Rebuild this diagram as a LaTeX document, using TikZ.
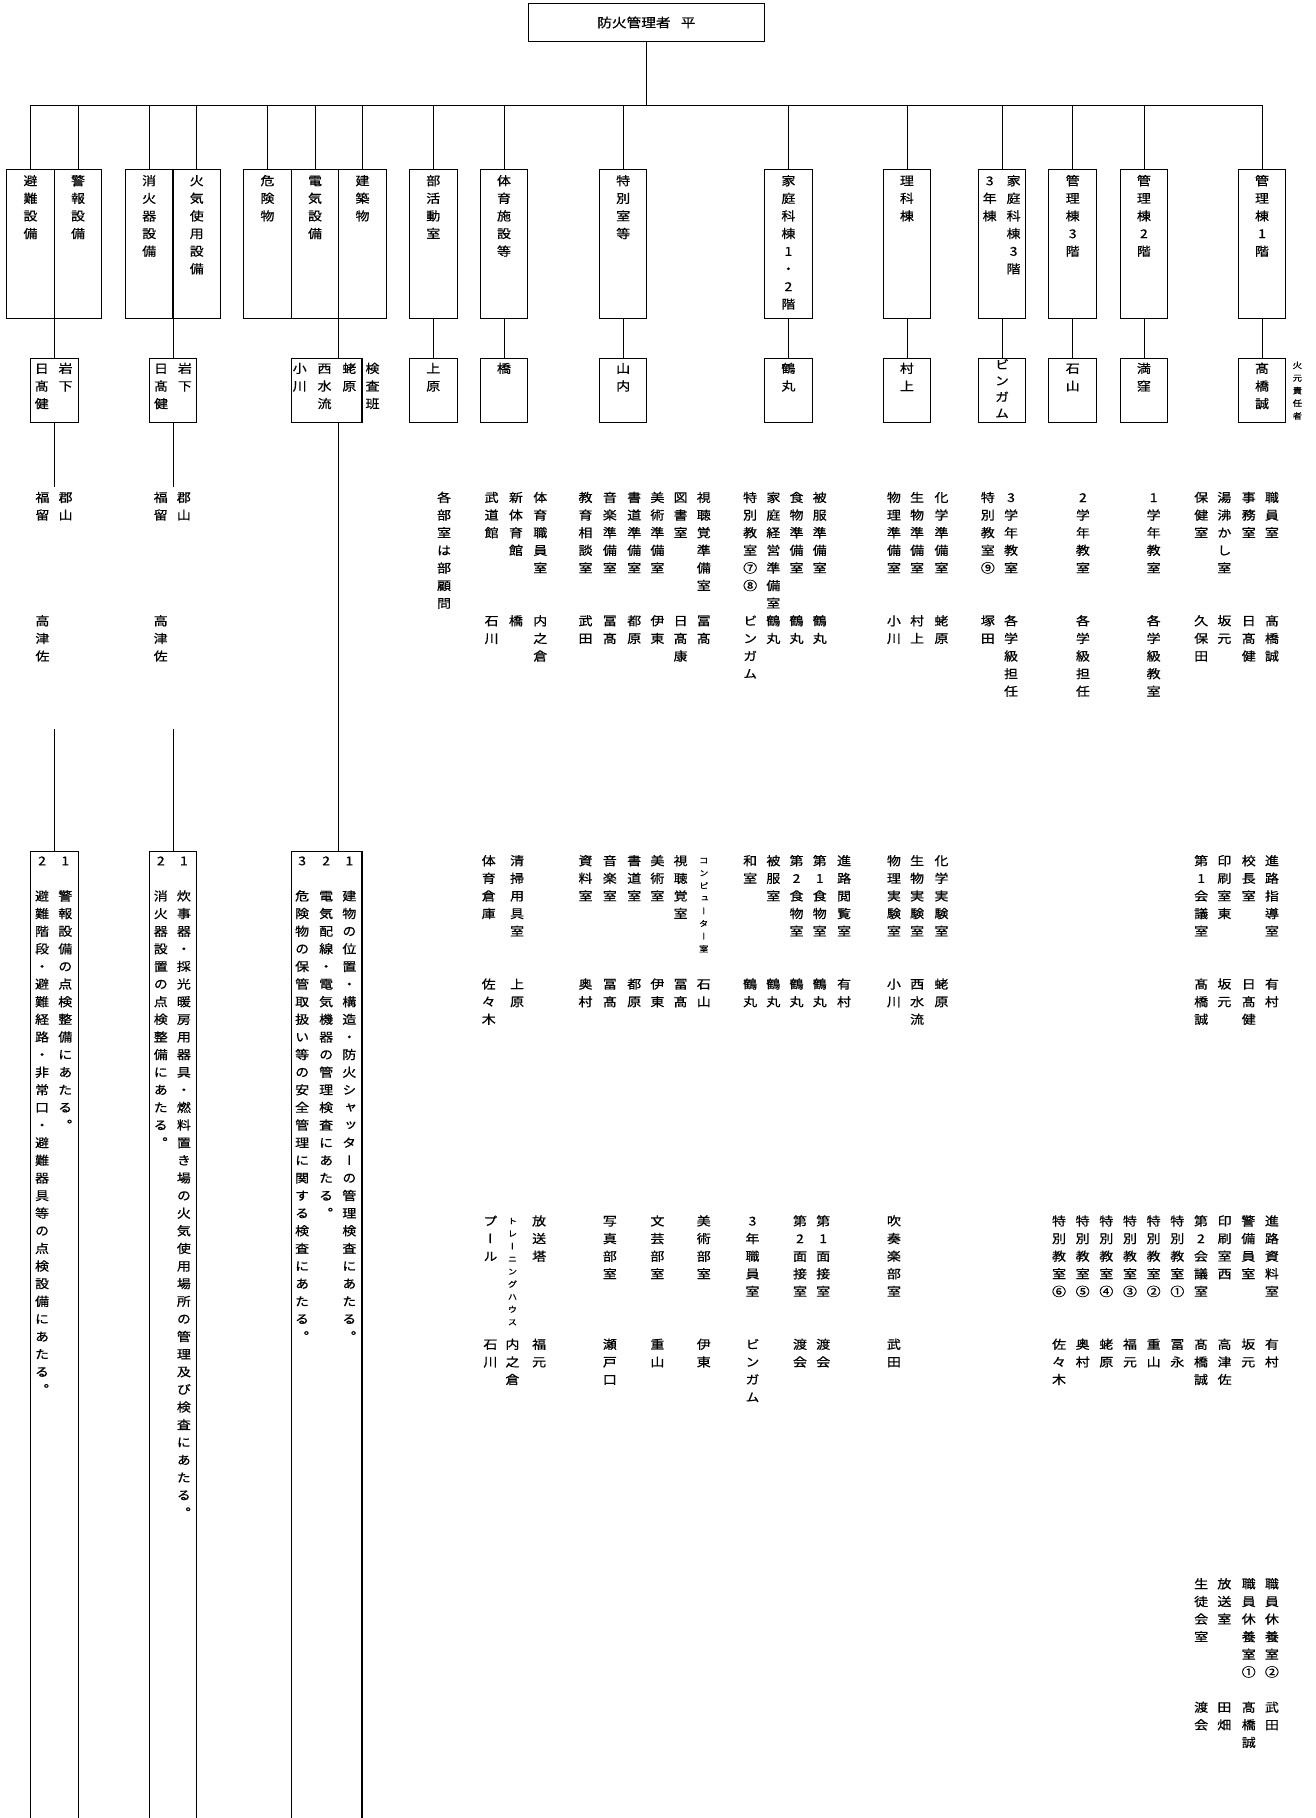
\documentclass[tikz,border=0pt]{standalone}
\usepackage{fontspec}
\newfontfamily\jpfont[RawFeature=+vert,FakeStretch=1.15,FakeBold=0.6]{Noto Sans CJK JP}
\usetikzlibrary{positioning}

% vertical (tate-gaki) column: one character per line
\makeatletter
\def\tate@end{\tate@end}
\newcommand\tate[2][15.2pt]{\vtop{\baselineskip=#1\relax\lineskiplimit=-\maxdimen\expandafter\tate@a#2\tate@end}}
\def\tate@a#1{\ifx\tate@end#1\else\hbox to 1.2em{\hss#1\hss}\expandafter\tate@a\fi}
\makeatother
\newcommand\tatebl{}

\begin{document}
\begin{tikzpicture}[x=1pt,y=-1pt,
  tt/.style={font=\jpfont\fontsize{10.5}{15.2}\selectfont,inner sep=0pt,anchor=base},
  small/.style={font=\jpfont\fontsize{7}{10.9}\selectfont,inner sep=0pt,anchor=base},
  cell/.style={draw,line width=0.9pt,inner sep=0pt,outer sep=0pt,minimum width=41pt,minimum height=128pt},
  chk/.style={cell,minimum height=55.2pt},
  duty/.style={draw,line width=0.9pt,inner sep=0pt,outer sep=0pt,minimum height=860pt},
  wire/.style={line width=0.6pt},
  busline/.style={line width=0.9pt}
]
  \useasboundingbox (0,0) rectangle (1135,1568);
  \fill[white] (0,0) rectangle (1135,1568);

  \node[draw,line width=0.9pt,inner sep=0pt,minimum width=203pt,minimum height=32.7pt,
        font=\jpfont\fontsize{11}{13}\selectfont] (chief) at (557.5,19.4) {防火管理者\hspace{0.8em}平};
  \coordinate (bus) at (557.5,90.8);

  % first row of boxes
  \node[cell,anchor=north west] (evac) at (5.8,146.6) {};
  \node[cell,right=0pt of evac] (alarm) {};
  \node[cell,anchor=north west] (extg) at (108.2,146.6) {};
  \node[cell,right=0pt of extg] (firegear) {};
  \node[cell,anchor=north west] (hazard) at (210.2,146.6) {};
  \node[cell,right=0pt of hazard] (elec) {};
  \node[cell,right=0pt of elec] (bldg) {};
  \node[cell,anchor=north] (club) at (373.7,146.6) {};
  \node[cell,anchor=north] (gym) at (434.7,146.6) {};
  \node[cell,anchor=north] (special) at (537.5,146.6) {};
  \node[cell,anchor=north] (home) at (680,146.6) {};
  \node[cell,anchor=north] (sci) at (782.2,146.6) {};
  \node[cell,anchor=north] (third) at (864.2,146.6) {};
  \node[cell,anchor=north] (kanri3) at (925.2,146.6) {};
  \node[cell,anchor=north] (kanri2) at (986.6,146.6) {};
  \node[cell,anchor=north] (kanri1) at (1088.5,146.6) {};

  \foreach \bx/\tx in {evac/避難設備,alarm/警報設備,extg/消火器設備,firegear/火気使用設備,
      hazard/危険物,elec/電気設備,bldg/建築物,club/部活動室,gym/体育施設等,special/特別室等,
      home/家庭科棟1・2階,sci/理科棟,kanri3/管理棟3階,kanri2/管理棟2階,kanri1/管理棟1階}
    \node[tt] (\bx-t) at (\bx.north |- 0,159.8) {\tate{\tx}};
  \node[tt] (third-a) at (853.6,159.8) {\tate{3年棟}};
  \node[tt] (third-b) at (874.2,159.8) {\tate{家庭科棟3階}};

  \draw[wire] (chief.south) -- (bus);
  \draw[busline] (evac.north |- bus) -- (kanri1.north |- bus);
  \foreach \bx in {evac,alarm,extg,firegear,hazard,elec,bldg,club,gym,special,home,sci,third,kanri3,kanri2,kanri1}
    \draw[wire] (\bx.north |- bus) -- (\bx.north);

  % second row: persons in charge
  \node[chk,anchor=north] (chkA) at (evac.south east |- 0,309) {};
  \node[chk,anchor=north] (chkB) at (extg.south east |- 0,309) {};
  \node[chk,minimum width=61pt,anchor=north west] (chkC) at (251.2,309) {};
  \node[tt] (chkA-1) at (36,321.7) {\tate{日髙健}};
  \node[tt] (chkA-2) at (56.5,321.7) {\tate{岩下}};
  \node[tt] (chkB-1) at (138.9,321.7) {\tate{日髙健}};
  \node[tt] (chkB-2) at (159.5,321.7) {\tate{岩下}};
  \node[tt] (chkC-1) at (258.5,321.7) {\tate{小川}};
  \node[tt] (chkC-2) at (279.9,321.7) {\tate{西水流}};
  \node[tt] (chkC-3) at (301.3,321.7) {\tate{蛯原}};
  \node[tt] (chkC-note) at (321.3,321.7) {\tate{検査班}};

  \foreach \up/\bx/\tx/\pt/\by in {club/uehara/上原/15.2pt/321.7,gym/tachibana/橋/15.2pt/321.7,
      special/yamauchi/山内/15.2pt/321.7,home/tsurumaru/鶴丸/15.2pt/321.7,sci/murakami/村上/15.2pt/321.7,
      third/bingamu/ビンガム/14pt/318.3,kanri3/ishiyama/石山/15.2pt/321.7,
      kanri2/mitsukubo/満窪/15.2pt/321.7,kanri1/takahashi/髙橋誠/15.2pt/321.7}{
    \node[chk,anchor=north] (\bx) at (\up.south |- 0,309) {};
    \node[tt] (\bx-t) at (\bx.north |- 0,\by) {\tate[\pt]{\tx}};
    \draw[wire] (\up.south) -- (\bx.north);
  }
  \node[small] (hinomoto) at (1119,317.7) {\tate[10.9pt]{火元責任者}};

  \draw[wire] (evac.south east) -- (chkA.north);
  \draw[wire] (extg.south east) -- (chkB.north);
  \draw[wire] (elec.south east) -- (elec.south east |- chkC.north);

  % third row: duties
  \node[duty,minimum width=41pt,anchor=north] (dutyA) at (chkA.south |- 0,734.5) {};
  \node[duty,minimum width=41pt,anchor=north] (dutyB) at (chkB.south |- 0,734.5) {};
  \node[duty,minimum width=61pt,anchor=north west] (dutyC) at (251.2,734.5) {};

  \coordinate (endA) at (chkA.south |- 0,420.3);
  \coordinate (endB) at (chkB.south |- 0,420.3);
  \coordinate (startA) at (chkA.south |- 0,629);
  \coordinate (startB) at (chkB.south |- 0,629);
  \draw[wire] (chkA.south) -- (endA);
  \draw[wire] (chkB.south) -- (endB);
  \draw[wire] (startA) -- (dutyA.north);
  \draw[wire] (startB) -- (dutyB.north);
  \draw[wire] (elec.south east |- chkC.south) -- (elec.south east |- dutyC.north);

  \node[tt] (dutyA-1) at (56.3,746.3) {\tate{1\tatebl 警報設備の点検整備にあたる。}};
  \node[tt] (dutyA-2) at (36.3,746.3) {\tate{2\tatebl 避難階段・避難経路・非常口・避難器具等の点検設備にあたる。}};
  \node[tt] (dutyB-1) at (158.6,746.3) {\tate{1\tatebl 炊事器・採光暖房用器具・燃料置き場の火気使用場所の管理及び検査にあたる。}};
  \node[tt] (dutyB-2) at (138.7,746.3) {\tate{2\tatebl 消火器設置の点検整備にあたる。}};
  \node[tt] (dutyC-1) at (301.3,746.3) {\tate{1\tatebl 建物の位置・構造・防火シャッターの管理検査にあたる。}};
  \node[tt] (dutyC-2) at (281.3,746.3) {\tate{2\tatebl 電気配線・電気機器の管理検査にあたる。}};
  \node[tt] (dutyC-3) at (260.6,746.3) {\tate{3\tatebl 危険物の保管取扱い等の安全管理に関する検査にあたる。}};

  % left lists under the second row
  \node[tt] (leftA-1) at (36.6,433) {\tate{福留}};
  \node[tt] (leftA-2) at (56.6,433) {\tate{郡山}};
  \node[tt] (leftA-3) at (36.6,539.4) {\tate{高津佐}};
  \node[tt] (leftB-1) at (138.6,433) {\tate{福留}};
  \node[tt] (leftB-2) at (158.6,433) {\tate{郡山}};
  \node[tt] (leftB-3) at (138.6,539.4) {\tate{高津佐}};

  % rooms and persons, block 1
  \node[tt] (bukatsu) at (383,433) {\tate{各部室は部顧問}};
  \foreach \x/\tx/\nm [count=\i] in {424/武道館/石川,445/新体育館/橋,466/体育職員室/内之倉,
      505/教育相談室/武田,526/音楽準備室/冨髙,547/書道準備室/都原,567/美術準備室/伊東,
      587/図書室/日髙康,607/視聴覚準備室/冨髙,647/特別教室⑦⑧/ビンガム,667/家庭経営準備室/鶴丸,
      687/食物準備室/鶴丸,707/被服準備室/鶴丸,771/物理準備室/小川,791/生物準備室/村上,
      812/化学準備室/蛯原,852/特別教室⑨/塚田,872/3学年教室/各学級担任,934/2学年教室/各学級担任,
      995/1学年教室/各学級教室,1036/保健室/久保田,1056/湯沸かし室/坂元,1077/事務室/日髙健,
      1097/職員室/髙橋誠}{
    \node[tt] (roomA-\i) at (\x,433) {\tate{\tx}};
    \node[tt] (staffA-\i) at (\x,539.4) {\tate{\nm}};
  }

  % block 2
  \foreach \x/\tx/\nm [count=\i] in {421.5/体育倉庫/佐々木,446/清掃用具室/上原,505/資料室/奥村,
      526/音楽室/冨髙,547/書道室/都原,567/美術室/伊東,587/視聴覚室/冨髙,647/和室/鶴丸,
      667/被服室/鶴丸,687/第2食物室/鶴丸,707/第1食物室/鶴丸,728/進路閲覧室/有村,
      771/物理実験室/小川,791/生物実験室/西水流,812/化学実験室/蛯原,1036/第1会議室/髙橋誠,
      1056/印刷室東/坂元,1077/校長室/日髙健,1097/進路指導室/有村}{
    \node[tt] (roomB-\i) at (\x,746.3) {\tate{\tx}};
    \node[tt] (staffB-\i) at (\x,852.7) {\tate{\nm}};
  }
  \node[small] (pcroom) at (607,744.7) {\tate[10.9pt]{コンピューター室}};
  \node[tt] (pcroom-s) at (607,852.7) {\tate{石山}};

  % block 3
  \foreach \x/\tx/\nm [count=\i] in {423/プール/石川,465/放送塔/福元,526/写真部室/瀬戸口,
      567/文芸部室/重山,607/美術部室/伊東,649/3年職員室/ビンガム,690/第2面接室/渡会,
      710/第1面接室/渡会,771/吹奏楽部室/武田,913.4/特別教室⑥/佐々木,933.8/特別教室⑤/奥村,
      954.2/特別教室④/蛯原,974.6/特別教室③/福元,995/特別教室②/重山,1015.4/特別教室①/冨永,
      1035.8/第2会議室/髙橋誠,1056.2/印刷室西/高津佐,1076.6/警備員室/坂元,1097/進路資料室/有村}{
    \node[tt] (roomC-\i) at (\x,1057) {\tate{\tx}};
    \node[tt] (staffC-\i) at (\x,1163.4) {\tate{\nm}};
  }
  \node[small] (training) at (442,1055.7) {\tate[10.9pt]{トレーニングハウス}};
  \node[tt] (training-s) at (442,1163.4) {\tate{内之倉}};

  % block 4
  \foreach \x/\tx/\nm [count=\i] in {1036/生徒会室/渡会,1056/放送室/田畑,
      1077/職員休養室①/髙橋誠,1097/職員休養室②/武田}{
    \node[tt] (roomD-\i) at (\x,1370) {\tate{\tx}};
    \node[tt] (staffD-\i) at (\x,1476.4) {\tate{\nm}};
  }
\end{tikzpicture}
\end{document}
